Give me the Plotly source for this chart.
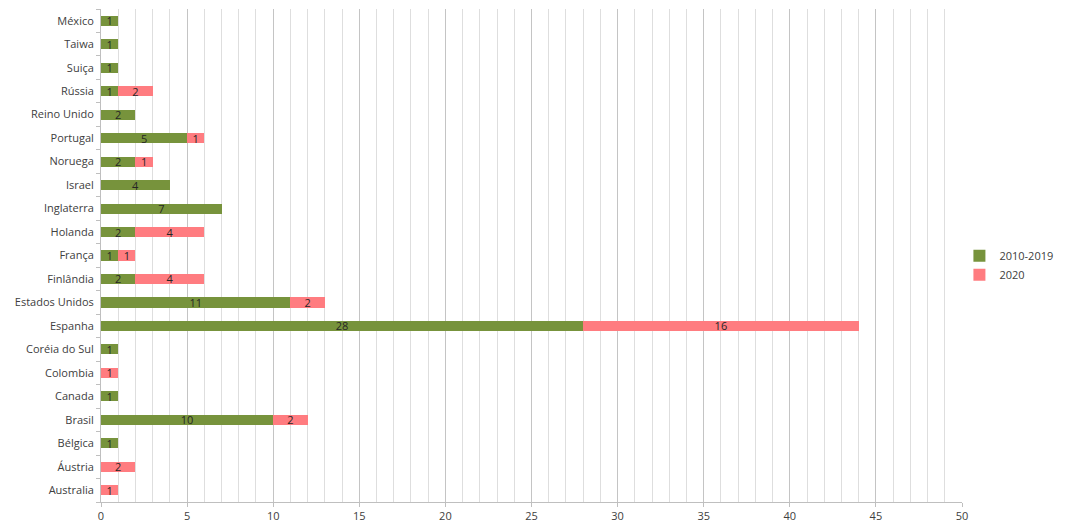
import plotly.graph_objects as go

countries = ["Australia", "Áustria", "Bélgica", "Brasil", "Canada", "Colombia",
             "Coréia do Sul", "Espanha", "Estados Unidos", "Finlândia", "França",
             "Holanda", "Inglaterra", "Israel", "Noruega", "Portugal", "Reino Unido",
             "Rússia", "Suiça", "Taiwa", "México"]
v2010_2019 = [0, 0, 1, 10, 1, 0, 1, 28, 11, 2, 1, 2, 7, 4, 2, 5, 2, 1, 1, 1, 1]
v2020 = [1, 2, 0, 2, 0, 1, 0, 16, 2, 4, 1, 4, 0, 0, 1, 1, 0, 2, 0, 0, 0]
x_ticks = [0, 5, 10, 15, 20, 25, 30, 35, 40, 45, 50]

FONT = "Open Sans"
fig = go.Figure()
for name, vals, color in [("2010-2019", v2010_2019, "#77933c"), ("2020", v2020, "#ff7c80")]:
    fig.add_trace(go.Bar(
        y=countries, x=vals, name=name, orientation="h",
        marker=dict(color=color, line=dict(width=0)),
        width=0.43,
        text=[str(v) if v else "" for v in vals],
        textposition="inside", insidetextanchor="middle", textangle=0,
        textfont=dict(family=FONT, size=11, color="#262626"),
        cliponaxis=False,
    ))

fig.update_layout(
    barmode="stack",
    width=1071, height=526,
    margin=dict(l=101, r=109, t=9, b=24, autoexpand=False),
    plot_bgcolor="white", paper_bgcolor="white",
    font=dict(family=FONT, size=11, color="#404040"),
    showlegend=True,
    legend=dict(x=0.997, y=0.48, xanchor="left", yanchor="middle",
                traceorder="normal",
                font=dict(family=FONT, size=11, color="#404040"),
                itemwidth=30, tracegroupgap=4, bgcolor="rgba(0,0,0,0)"),
    uniformtext=dict(minsize=8, mode="show"),
)
fig.update_xaxes(
    range=[0, 50], tickvals=x_ticks, ticktext=[str(t) for t in x_ticks],
    showgrid=True, gridcolor="#c4c4c4", gridwidth=1,
    minor=dict(dtick=1, tick0=0, showgrid=True, gridcolor="#dedede", gridwidth=1),
    showline=True, linecolor="#bfbfbf", linewidth=1,
    ticks="outside", ticklen=4, tickcolor="#bfbfbf",
    zeroline=False, tickfont=dict(size=11, color="#404040"),
)
fig.update_yaxes(
    type="category", categoryorder="array", categoryarray=countries,
    showline=True, linecolor="#bfbfbf", linewidth=1,
    ticks="outside", tickson="boundaries", ticklen=4, tickcolor="#bfbfbf",
    ticklabelstandoff=4,
    showgrid=False, tickfont=dict(size=11, color="#404040"),
)
fig.write_html("out.html")
